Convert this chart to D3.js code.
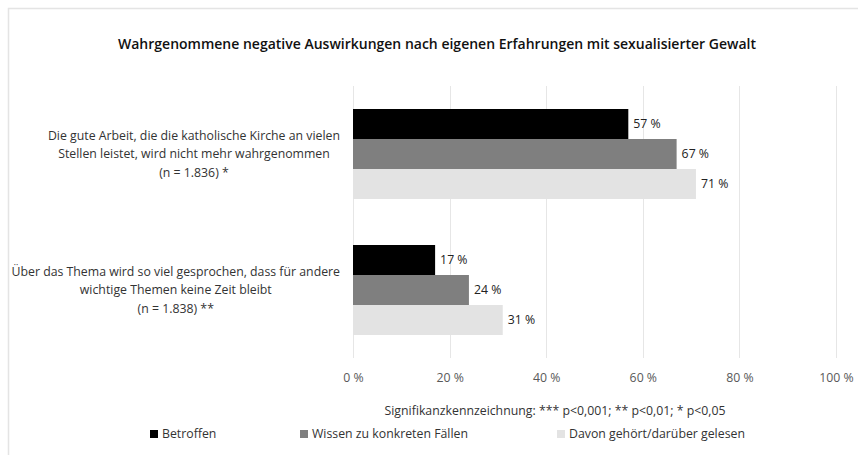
<!DOCTYPE html>
<html>
<head>
<meta charset="utf-8">
<script src="https://cdn.jsdelivr.net/npm/d3@7"></script>
<style>
  body { margin: 0; background: #fff; }
  svg { display: block; font-family: "Open Sans", "Noto Sans", sans-serif; }
</style>
</head>
<body>
<div id="chart"></div>
<script>
const title = "Wahrgenommene negative Auswirkungen nach eigenen Erfahrungen mit sexualisierter Gewalt";
const categories = [
  ["Die gute Arbeit, die die katholische Kirche an vielen", "Stellen leistet, wird nicht mehr wahrgenommen", "(n = 1.836) *"],
  ["Über das Thema wird so viel gesprochen, dass für andere", "wichtige Themen keine Zeit bleibt", "(n = 1.838) **"]
];
const series = ["Betroffen", "Wissen zu konkreten Fällen", "Davon gehört/darüber gelesen"];
const colors = ["#000000", "#7f7f7f", "#e3e3e3"];
const values = [
  [57, 67, 71],
  [17, 24, 31]
];
const ticks = [0, 20, 40, 60, 80, 100];
const note = "Signifikanzkennzeichnung: *** p<0,001; ** p<0,01; * p<0,05";

const width = 858, height = 455;
const fs = 12.3;
const svg = d3.select("#chart").append("svg")
  .attr("width", width).attr("height", height);

// chart frame (only top and left edges visible)
svg.append("path")
  .attr("d", `M8.5,${height}V8.5H${width}`)
  .attr("fill", "none").attr("stroke", "#e4e4e4").attr("stroke-width", 1.5);

svg.append("text")
  .attr("x", 437).attr("y", 49)
  .attr("text-anchor", "middle")
  .attr("font-size", 14).attr("font-weight", 600)
  .attr("fill", "#111")
  .text(title);

const x = d3.scaleLinear().domain([0, 100]).range([353, 836]);
const y = d3.scaleBand().domain(d3.range(categories.length)).range([86, 358]);
const inner = d3.scaleBand().domain(d3.range(series.length)).range([0, 90]);

// gridlines
svg.append("g").selectAll("line")
  .data(ticks).join("line")
  .attr("x1", d => Math.round(x(d)) + 0.5).attr("x2", d => Math.round(x(d)) + 0.5)
  .attr("y1", 86).attr("y2", 358)
  .attr("stroke", "#e6e6e6");

// x axis labels
const xAxis = svg.append("g")
  .attr("transform", "translate(0,358)")
  .call(d3.axisBottom(x).tickValues(ticks).tickSize(0).tickPadding(15).tickFormat(d => d + " %"));
xAxis.select(".domain").remove();
xAxis.selectAll("text").attr("font-size", fs).attr("fill", "#595959")
  .attr("font-family", "\"Open Sans\", \"Noto Sans\", sans-serif");

const groups = svg.append("g").selectAll("g")
  .data(values).join("g")
  .attr("transform", (d, i) => `translate(0,${y(i) + (y.bandwidth() - 90) / 2})`);

groups.selectAll("rect")
  .data(d => d).join("rect")
  .attr("x", x(0))
  .attr("y", (d, j) => inner(j))
  .attr("width", d => x(d) - x(0))
  .attr("height", inner.bandwidth())
  .attr("fill", (d, j) => colors[j]);

groups.selectAll("text.val")
  .data(d => d).join("text")
  .attr("class", "val")
  .attr("x", d => x(d) + 5)
  .attr("y", (d, j) => inner(j) + inner.bandwidth() / 2)
  .attr("dy", "0.35em")
  .attr("font-size", fs).attr("fill", "#222")
  .text(d => d + " %");

// category labels: block right-aligned at 340, lines centered in block
categories.forEach((lines, i) => {
  const g = svg.append("g");
  const cy = y(i) + y.bandwidth() / 2;
  const t = g.selectAll("text").data(lines).join("text")
    .attr("font-size", fs).attr("fill", "#333")
    .attr("text-anchor", "middle")
    .attr("y", (d, k) => cy + (k - 1) * 18.5)
    .attr("dy", "0.35em")
    .text(d => d);
  const maxW = d3.max(t.nodes(), n => n.getComputedTextLength());
  t.attr("x", 340 - maxW / 2);
});

svg.append("text")
  .attr("x", 555).attr("y", 411).attr("dy", "0.35em")
  .attr("text-anchor", "middle")
  .attr("font-size", fs).attr("fill", "#333")
  .text(note);

const legendX = [150, 300, 557];
const legend = svg.append("g").selectAll("g")
  .data(series).join("g")
  .attr("transform", (d, i) => `translate(${legendX[i]},434)`);
legend.append("rect")
  .attr("x", 0).attr("y", -4).attr("width", 8).attr("height", 8)
  .attr("fill", (d, i) => colors[i]);
legend.append("text")
  .attr("x", 12).attr("dy", "0.35em")
  .attr("font-size", fs).attr("fill", "#333")
  .text(d => d);
</script>
</body>
</html>
